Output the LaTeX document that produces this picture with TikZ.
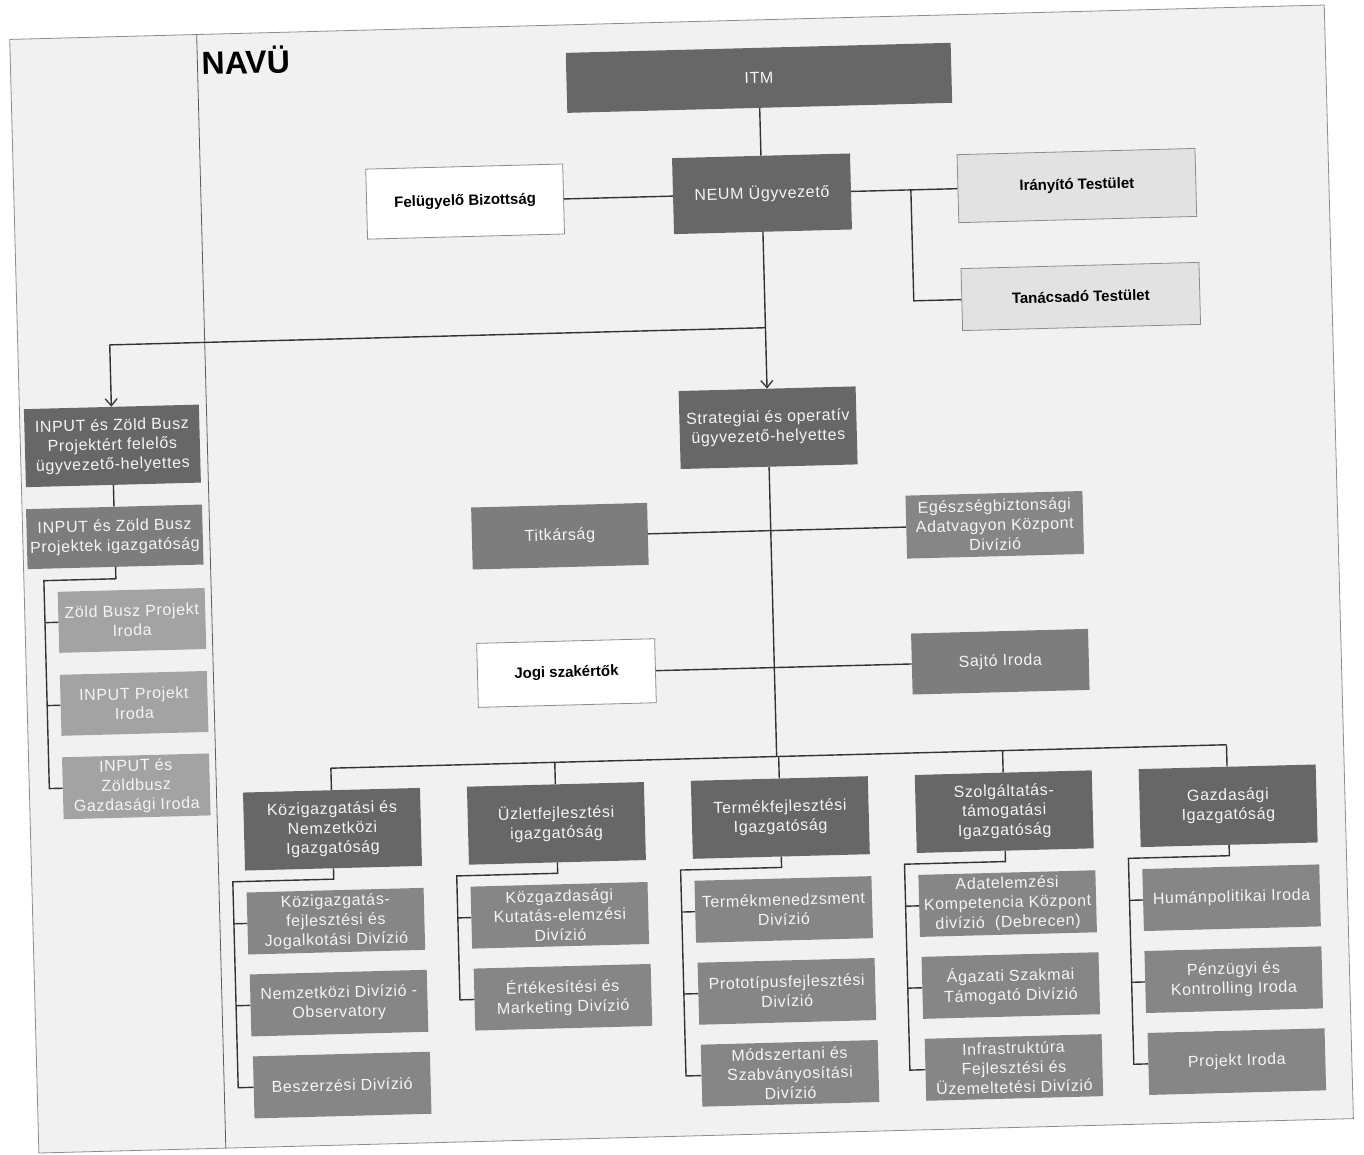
\documentclass[tikz,border=0pt]{standalone}
\usepackage{fontspec}
\setmainfont{Liberation Sans}
\newfontfamily\boxfont[LetterSpace=4]{Liberation Sans}
\usetikzlibrary{arrows.meta}
\definecolor{cdark}{HTML}{676767}
\definecolor{cmid}{HTML}{7D7D7D}
\definecolor{cdiv}{HTML}{868686}
\definecolor{clight}{HTML}{A3A3A3}
\definecolor{cpanel}{HTML}{E2E2E2}
\definecolor{cpage}{HTML}{F1F1F1}
\definecolor{cframe}{HTML}{8C8C8C}
\definecolor{cline}{HTML}{333333}
\definecolor{ctext}{HTML}{F5F5F5}
\begin{document}
\begin{tikzpicture}[x=1pt,y=-1pt,
  conn/.style={draw=cline,line width=1.4pt},
  arr/.style={conn,-{Straight Barb[length=7pt,width=12pt,line width=1.3pt]}},
  box/.style={rectangle,minimum width=177pt,minimum height=62pt,align=center,
    text=ctext,font=\boxfont\fontsize{16}{19.5}\selectfont,inner sep=1pt},
  headbox/.style={box,fill=cdark,minimum height=78pt},
  divbox/.style={box,fill=cdiv},
  midbox/.style={box,fill=cmid},
  officebox/.style={box,fill=clight,minimum width=147pt,minimum height=61pt},
  boldlabel/.style={rectangle,align=center,text=black,
    font=\bfseries\fontsize{15}{18}\selectfont},
  whitebox/.style={boldlabel,fill=white,draw=cframe,line width=0.8pt},
  panelbox/.style={boldlabel,fill=cpanel,draw=cframe,line width=0.8pt,
    minimum width=238pt}]
\fill[white] (0,0) rectangle (1364,1154);
\path[use as bounding box] (0,0) rectangle (1364,1154);
\begin{scope}[rotate around={1.5:(682,577)},transform shape]
% page frame and divider
\draw[draw=cframe,fill=cpage,line width=0.8pt] (24,22) rectangle (1339,1136);
\draw[draw=cline!80,line width=0.8pt] (211,22) -- (211,1136);
\node[anchor=west,inner sep=0pt,font=\bfseries\fontsize{32}{36}\selectfont] (navu) at (215,49) {NAVÜ};

% top level
\node[box,fill=cdark,minimum width=385pt,minimum height=60pt] (itm) at (772,80) {ITM};
\node[box,fill=cdark,minimum width=178pt,minimum height=76pt] (neum) at (772,196) {NEUM Ügyvezető};
\node[whitebox,minimum width=197pt,minimum height=70pt] (fb) at (475,196) {Felügyelő Bizottság};
\node[panelbox,minimum height=68pt] (irt) at (1087,196) {Irányító Testület};
\node[panelbox,minimum height=62pt] (tat) at (1088,307) {Tanácsadó Testület};

% deputies
\node[box,fill=cdark,minimum height=78pt] (sd) at (772,430) {Strategiai és operatív\\ügyvezető-helyettes};
\node[box,fill=cdark,minimum width=175pt,minimum height=78pt] (id) at (116,431) {INPUT és Zöld Busz\\Projektért felelős\\ügyvezető-helyettes};
\node[midbox,minimum width=176pt,minimum height=60pt] (ig) at (116,522) {INPUT és Zöld Busz\\Projektek igazgatóság};
\node[officebox] (zb) at (131,606) {Zöld Busz Projekt\\Iroda};
\node[officebox] (ip) at (131,689) {INPUT Projekt\\Iroda};
\node[officebox,minimum height=62pt] (gi) at (131,772) {INPUT és\\Zöldbusz\\Gazdasági Iroda};

% staff units
\node[midbox,minimum width=176pt] (tit) at (561,533) {Titkárság};
\node[divbox,minimum height=63pt] (eg) at (996,533) {Egészségbiztonsági\\Adatvagyon Központ\\Divízió};
\node[whitebox,minimum width=178pt,minimum height=64pt] (jogi) at (564,670) {Jogi szakértők};
\node[midbox,minimum height=61pt] (sajto) at (998,670) {Sajtó Iroda};

% directorates
\node[headbox] (da) at (326,820) {Közigazgatási és\\Nemzetközi\\Igazgatóság};
\node[headbox] (db) at (550,820) {Üzletfejlesztési\\igazgatóság};
\node[headbox] (dc) at (774,820) {Termékfejlesztési\\Igazgatóság};
\node[headbox] (dd) at (998,820) {Szolgáltatás-\\támogatási\\Igazgatóság};
\node[headbox] (de) at (1222,820) {Gazdasági\\Igazgatóság};

% divisions
\node[divbox] (da1) at (327,912) {Közigazgatás-\\fejlesztési és\\Jogalkotási Divízió};
\node[divbox] (da2) at (328,994) {Nemzetközi Divízió -\\Observatory};
\node[divbox] (da3) at (329,1076) {Beszerzési Divízió};
\node[divbox] (db1) at (551,912) {Közgazdasági\\Kutatás-elemzési\\Divízió};
\node[divbox] (db2) at (552,994) {Értékesítési és\\Marketing Divízió};
\node[divbox] (dc1) at (775,912) {Termékmenedzsment\\Divízió};
\node[divbox] (dc2) at (776,994) {Prototípusfejlesztési\\Divízió};
\node[divbox] (dc3) at (777,1076) {Módszertani és\\Szabványosítási\\Divízió};
\node[divbox] (dd1) at (999,912) {Adatelemzési\\Kompetencia Központ\\divízió\ \ (Debrecen)};
\node[divbox] (dd2) at (1000,994) {Ágazati Szakmai\\Támogató Divízió};
\node[divbox] (dd3) at (1001,1076) {Infrastruktúra\\Fejlesztési és\\Üzemeltetési Divízió};
\node[divbox] (de1) at (1223,912) {Humánpolitikai Iroda};
\node[divbox] (de2) at (1223,994) {Pénzügyi és\\Kontrolling Iroda};
\node[divbox] (de3) at (1224,1076) {Projekt Iroda};

% helper coordinates (bends)
\coordinate (j1) at (772,330);
\coordinate (jl) at (116,330);
\coordinate (b1) at (921,196);
\coordinate (b2) at (921,307);
\coordinate (c1) at (116,564);
\coordinate (c2) at (44,564);
\coordinate (c3) at (44,772);
\coordinate (t1) at (44,606);
\coordinate (t2) at (44,689);
\coordinate (bus) at (772,759);
\coordinate (busa) at (326,759);
\coordinate (busb) at (550,759);
\coordinate (busc) at (774,759);
\coordinate (busd) at (998,759);
\coordinate (buse) at (1222,759);
\foreach \c/\x in {a/326,b/550,c/774,d/998,e/1222}{
  \coordinate (k\c0) at (\x,870);
  \coordinate (k\c1) at ({\x-101},870);
  \coordinate (k\c2) at ({\x-101},912);
  \coordinate (k\c3) at ({\x-101},994);
  \coordinate (k\c4) at ({\x-101},1076);
}

% connectors
\draw[conn] (itm.south) -- (neum.north);
\draw[conn] (fb.east) -- (neum.west);
\draw[conn] (neum.east) -- (irt.west);
\draw[conn] (b1) -- (b2) -- (tat.west);
\draw[arr] (neum.south) -- (sd.north);
\draw[conn] (j1) -- (jl);
\draw[arr] (jl) -- (id.north);
\draw[conn] (id.south) -- (ig.north);
\draw[conn] (ig.south) -- (c1) -- (c2) -- (c3) -- (gi.west);
\draw[conn] (t1) -- (zb.west);
\draw[conn] (t2) -- (ip.west);
\draw[conn] (tit.east) -- (eg.west);
\draw[conn] (jogi.east) -- (sajto.west);
\draw[conn] (sd.south) -- (bus);
\draw[conn] (busa) -- (buse);
\foreach \c in {a,b,c,d,e}{
  \draw[conn] (bus\c) -- (d\c.north);
}
% brackets
\draw[conn] (da.south) -- (ka0) -- (ka1) -- (ka4) -- (da3.west);
\draw[conn] (ka2) -- (da1.west);
\draw[conn] (ka3) -- (da2.west);
\draw[conn] (db.south) -- (kb0) -- (kb1) -- (kb3) -- (db2.west);
\draw[conn] (kb2) -- (db1.west);
\draw[conn] (dc.south) -- (kc0) -- (kc1) -- (kc4) -- (dc3.west);
\draw[conn] (kc2) -- (dc1.west);
\draw[conn] (kc3) -- (dc2.west);
\draw[conn] (dd.south) -- (kd0) -- (kd1) -- (kd4) -- (dd3.west);
\draw[conn] (kd2) -- (dd1.west);
\draw[conn] (kd3) -- (dd2.west);
\draw[conn] (de.south) -- (ke0) -- (ke1) -- (ke4) -- (de3.west);
\draw[conn] (ke2) -- (de1.west);
\draw[conn] (ke3) -- (de2.west);
\end{scope}
\end{tikzpicture}
\end{document}
